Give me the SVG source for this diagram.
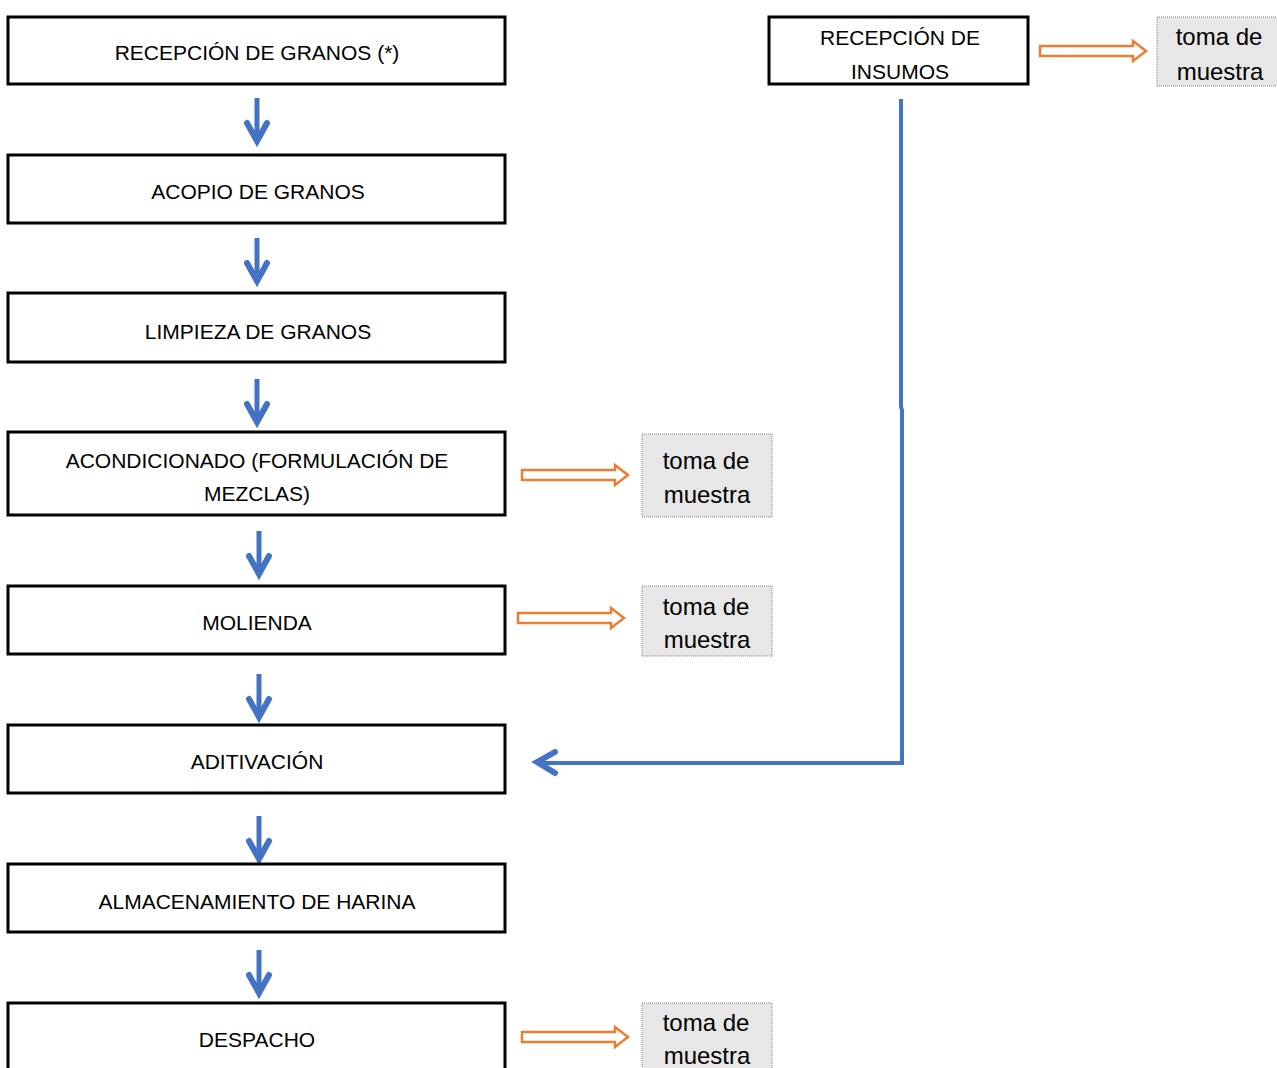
<svg xmlns="http://www.w3.org/2000/svg" xmlns:xlink="http://www.w3.org/1999/xlink" width="1277" height="1068" viewBox="0 0 1277 1068">
<style>
.box{fill:#fff;stroke:#000;stroke-width:3}
.lbl{font-family:"Liberation Sans",Arial,sans-serif;font-size:21px;fill:#000;text-anchor:middle}
.toma{fill:#e7e7e7;stroke:#7f7f7f;stroke-width:1;stroke-dasharray:1 1}
.tl{font-family:"Liberation Sans",Arial,sans-serif;font-size:24px;fill:#000;text-anchor:middle}
.oarr{fill:#fff;stroke:#ED7D31;stroke-width:2.5;stroke-linejoin:miter}
.blue{fill:none;stroke:#4472C4;stroke-width:5}
.bhead{fill:none;stroke:#4472C4;stroke-width:6;stroke-linecap:round}
</style>
<defs>
<g id="down">
<path d="M0,0 V42" class="blue"/>
<path d="M-10,25 L0,43 L10,25" class="bhead"/>
</g>
<path id="oright" d="M0,-5 H93 V-10 L106,0 L93,10 V5 H0 Z" class="oarr"/>
</defs>
<rect width="1277" height="1068" fill="#fff"/>

<g id="connectors">
<use xlink:href="#down" x="257" y="98"/>
<use xlink:href="#down" x="257" y="238"/>
<use xlink:href="#down" x="257" y="379"/>
<use xlink:href="#down" x="259" y="531"/>
<use xlink:href="#down" x="259" y="674"/>
<use xlink:href="#down" x="259" y="816"/>
<use xlink:href="#down" x="259" y="950"/>
<use xlink:href="#oright" x="1040" y="51"/>
<use xlink:href="#oright" x="522" y="475"/>
<use xlink:href="#oright" x="518" y="618"/>
<use xlink:href="#oright" x="522" y="1037"/>
<path d="M901,99 V407 L902,410 V763 H540" fill="none" stroke="#4472C4" stroke-width="4"/>
<path d="M555,752 L537,762 L555,773" class="bhead"/>
</g>

<g id="n1"><rect class="box" x="8" y="17" width="497" height="67"/><text class="lbl" x="257" y="60">RECEPCIÓN DE GRANOS (*)</text></g>
<g id="n2"><rect class="box" x="8" y="155" width="497" height="68"/><text class="lbl" x="258" y="199">ACOPIO DE GRANOS</text></g>
<g id="n3"><rect class="box" x="8" y="293" width="497" height="69"/><text class="lbl" x="258" y="339">LIMPIEZA DE GRANOS</text></g>
<g id="n4"><rect class="box" x="8" y="432" width="497" height="83"/><text class="lbl" x="257" y="468">ACONDICIONADO (FORMULACIÓN DE</text><text class="lbl" x="257" y="501">MEZCLAS)</text></g>
<g id="n5"><rect class="box" x="8" y="586" width="497" height="68"/><text class="lbl" x="257" y="630">MOLIENDA</text></g>
<g id="n6"><rect class="box" x="8" y="725" width="497" height="68"/><text class="lbl" x="257" y="769">ADITIVACIÓN</text></g>
<g id="n7"><rect class="box" x="8" y="864" width="497" height="68"/><text class="lbl" x="257" y="909">ALMACENAMIENTO DE HARINA</text></g>
<g id="n8"><rect class="box" x="8" y="1003" width="497" height="100"/><text class="lbl" x="257" y="1047">DESPACHO</text></g>
<g id="n9"><rect class="box" x="769" y="17" width="259" height="67"/><text class="lbl" x="900" y="45">RECEPCIÓN DE</text><text class="lbl" x="900" y="79">INSUMOS</text></g>

<g id="t1"><rect class="toma" x="1157" y="17" width="125" height="69"/><text class="tl" x="1219" y="45">toma de</text><text class="tl" x="1220" y="80">muestra</text></g>
<g id="t2"><rect class="toma" x="642" y="434" width="130" height="83"/><text class="tl" x="706" y="469">toma de</text><text class="tl" x="707" y="503">muestra</text></g>
<g id="t3"><rect class="toma" x="642" y="586" width="130" height="70"/><text class="tl" x="706" y="615">toma de</text><text class="tl" x="707" y="648">muestra</text></g>
<g id="t4"><rect class="toma" x="642" y="1003" width="130" height="80"/><text class="tl" x="706" y="1031">toma de</text><text class="tl" x="707" y="1064">muestra</text></g>
</svg>
